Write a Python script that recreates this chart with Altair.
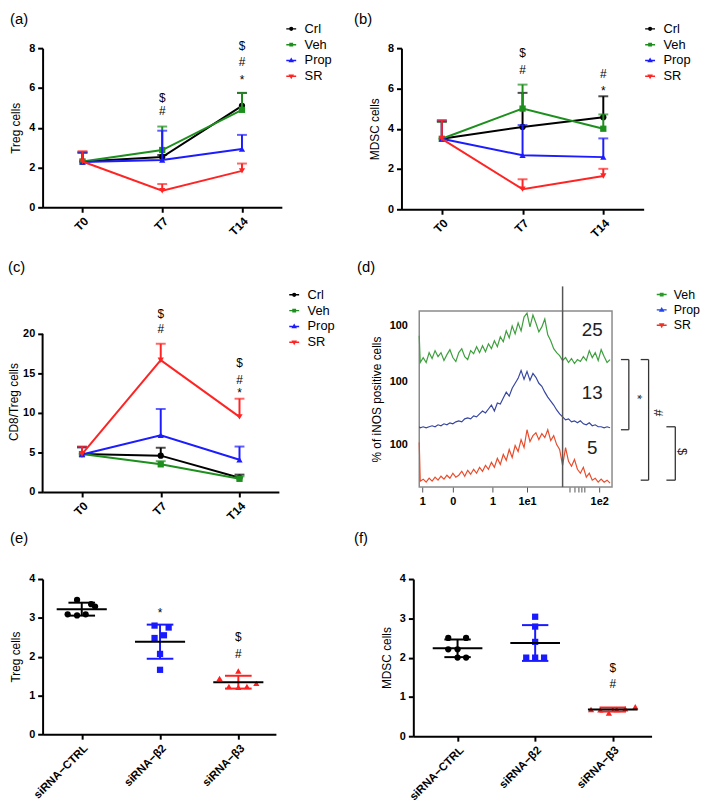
import altair as alt
import pandas as pd

FONT = "Liberation Sans"

# ---------------- shared series definitions ----------------
times = ["T0", "T7", "T14"]
groups = ["Crl", "Veh", "Prop", "SR"]
group_colors = ["#000000", "#1c8f1c", "#1c1cff", "#ff2424"]
group_shapes = ["circle", "square", "triangle-up", "triangle-down"]
legend_paths = [
    "M-1,0H1M-0.28,0A0.28,0.28 0 1,0 0.28,0A0.28,0.28 0 1,0 -0.28,0Z",
    "M-1,0H1M-0.24,-0.24H0.24V0.24H-0.24Z",
    "M-1,0H1M-0.3,0.22L0,-0.3L0.3,0.22Z",
    "M-1,0H1M-0.3,-0.22L0,0.3L0.3,-0.22Z",
]

# (a) Treg cells  (mean, upper error)
a_mean = {"Crl": [2.30, 2.53, 5.10], "Veh": [2.30, 2.88, 4.90],
          "Prop": [2.28, 2.38, 2.93], "SR": [2.30, 0.83, 1.83]}
a_err = {"Crl": [0.45, 0.10, 0.65], "Veh": [0.45, 1.18, 0.85],
         "Prop": [0.48, 1.47, 0.71], "SR": [0.52, 0.34, 0.37]}
a_mark_t = ["T7", "T7", "T14", "T14", "T14"]
a_mark_y = [5.47, 4.83, 8.10, 7.30, 6.55]
a_mark_s = ["$", "#", "$", "#", "*"]

# (b) MDSC cells
b_mean = {"Crl": [3.50, 4.09, 4.57], "Veh": [3.50, 5.00, 4.00],
          "Prop": [3.50, 2.68, 2.59], "SR": [3.50, 1.00, 1.65]}
b_err = {"Crl": [0.85, 1.69, 1.04], "Veh": [0.85, 1.19, 0.71],
         "Prop": [0.90, 1.50, 0.93], "SR": [0.93, 0.49, 0.36]}
b_mark_t = ["T7", "T7", "T14", "T14"]
b_mark_y = [7.75, 6.90, 6.70, 6.00]
b_mark_s = ["$", "#", "#", "*"]

# (c) CD8/Treg cells
c_mean = {"Crl": [4.80, 4.60, 1.80], "Veh": [4.80, 3.50, 1.67],
          "Prop": [4.75, 7.17, 4.08], "SR": [4.80, 16.67, 9.50]}
c_err = {"Crl": [0.90, 1.00, 0.40], "Veh": [0.85, 0.40, 0.30],
         "Prop": [0.90, 3.33, 1.67], "SR": [0.95, 2.08, 2.30]}
c_mark_t = ["T7", "T7", "T14", "T14", "T14"]
c_mark_y = [22.5, 20.6, 16.25, 14.1, 12.9]
c_mark_s = ["$", "#", "$", "#", "*"]

# (d) iNOS histograms
hist_names = ["Veh", "Prop", "SR"]
hist_colors = ["#3f9f3f", "#3646a0", "#e84c2c"]
hist_legend_colors = ["#2a9a2a", "#2244ee", "#ee3322"]
hist_offsets = [123, 59, 3]
hist_level100 = [40, 48, 40]
hist_pct = ["25", "13", "5"]
hist_chan = [0, 1] + list(range(4, 194, 3))
veh_counts = [30, 3, 8, 3, 13, 7, 15, 9, 13, 5, 11, 16, 8, 4, 13, 17, 9, 6, 15, 12,
              19, 13, 20, 14, 22, 17, 25, 19, 29, 24, 35, 28, 40, 32, 43, 35, 49, 53, 39, 51,
              43, 34, 39, 47, 31, 25, 17, 13, 10, 5, 8, 3, 7, 2, 6, 4, 9, 5, 15, 8,
              13, 5, 16, 9, 3, 6]
prop_counts = [2, 1, 2, 1, 2, 3, 2, 4, 3, 5, 4, 6, 5, 7, 8, 7, 10, 11, 10, 13,
               12, 15, 18, 16, 20, 24, 18, 26, 25, 31, 37, 33, 41, 46, 51, 59, 50, 58, 49, 56,
               52, 46, 43, 37, 32, 28, 24, 19, 15, 12, 9, 10, 7, 8, 6, 8, 5, 4, 6, 3,
               4, 2, 2, 1, 2, 1]
sr_counts = [42, 3, 5, 2, 6, 3, 7, 4, 8, 5, 9, 6, 11, 7, 9, 13, 8, 14, 10, 15,
             11, 17, 13, 19, 15, 22, 17, 26, 20, 30, 24, 35, 27, 39, 33, 45, 37, 55, 43, 49,
             52, 45, 51, 47, 55, 44, 49, 40, 35, 19, 37, 23, 18, 25, 15, 11, 17, 7, 11, 4,
             6, 2, 5, 2, 4, 1]
hist_gate = [145]
hist_tick_vals = [3, 34, 74, 109, 182]
hist_tick_text = ["1", "0", "1", "1e1", "1e2"]
hist_minor_ticks = [152, 157, 161, 164, 167]
bracket_text = ["*", "#", "$"]

# (e) Treg cells after siRNA, (f) MDSC cells after siRNA
si_labels = ["siRNA\u2212CTRL", "siRNA\u2212\u03b22", "siRNA\u2212\u03b23"]
si_colors = ["#000000", "#1a1aff", "#ff2020"]
si_shapes = ["circle", "square", "triangle-up"]
e_vals = [[3.46, 3.09, 3.06, 3.09, 3.35, 3.29],
          [2.80, 2.75, 2.55, 2.48, 2.07, 1.66],
          [1.44, 1.63, 1.23, 1.21, 1.23, 1.31]]
e_jit = [[-0.06, -0.18, -0.06, 0.05, 0.12, 0.17],
         [-0.07, 0.11, 0.05, -0.07, 0.0, 0.0],
         [-0.24, 0.0, -0.12, 0.0, 0.11, 0.23]]
e_mark_x = [1, 2, 2]
e_mark_y = [3.20, 2.50, 2.07]
e_mark_s = ["*", "$", "#"]
f_vals = [[2.50, 2.50, 2.21, 2.21, 2.00, 2.00],
          [3.04, 2.79, 2.40, 2.00, 2.00, 2.00],
          [0.68, 0.67, 0.59, 0.68, 0.70, 0.75]]
f_jit = [[-0.12, 0.11, -0.12, 0.0, 0.0, 0.11],
         [0.0, 0.0, 0.0, -0.115, 0.0, 0.115],
         [-0.28, -0.16, -0.05, 0.05, 0.16, 0.29]]
f_mark_x = [2, 2]
f_mark_y = [1.74, 1.33]
f_mark_s = ["$", "#"]

ANN_SIZE = 12


def panel_title(label, dx, offset):
    return alt.TitleParams(text=label, anchor="start", frame="bounds", font=FONT,
                           fontSize=15, fontWeight="normal", color="black",
                           offset=offset, dx=dx)


def line_panel(label, ytitle, mean, err, ymax, ystep, mt, my, ms, width, height,
               axis_px, leg_x, leg_y, title_dx, title_off, title_x):
    rows = []
    for g in groups:
        for t, m, e in zip(times, mean[g], err[g]):
            rows.append({"group": g, "time": t, "mean": m, "hi": m + e})
    df = pd.DataFrame(rows)
    ydom = ymax * height / axis_px
    yaxis = alt.Axis(values=list(range(0, ymax + 1, ystep)), title=ytitle,
                     titleX=title_x, domain=(axis_px == height))
    xaxis = alt.Axis(title=None, labelAngle=-45)
    xscale = alt.Scale(type="point", domain=times, padding=0.5)

    def X(f="time"):
        return alt.X(f + ":N", scale=xscale, axis=xaxis)

    def Y(f):
        return alt.Y(f + ":Q", scale=alt.Scale(domain=[0, ydom], nice=False), axis=yaxis)

    layers = []
    if axis_px != height:
        layers.append(alt.Chart(pd.DataFrame({"lo": [0], "top": [ymax]}))
                      .mark_rule(color="black", strokeWidth=2)
                      .encode(x=alt.value(0), y=Y("lo"), y2="top:Q"))
    for g, c, s in zip(groups, group_colors, group_shapes):
        sub = alt.Chart(df).transform_filter(alt.datum.group == g)
        layers.append(sub.mark_rule(color=c, strokeWidth=2).encode(x=X(), y=Y("mean"), y2="hi:Q"))
        layers.append(sub.mark_tick(color=c, thickness=2, size=10).encode(x=X(), y=Y("hi")))
        layers.append(sub.mark_line(color=c, strokeWidth=2).encode(x=X(), y=Y("mean")))
        layers.append(sub.mark_point(filled=True, color=c, shape=s, size=40, opacity=1)
                      .encode(x=X(), y=Y("mean")))
    ann = pd.DataFrame({"time": mt, "y": my, "s": ms})
    reg = ann[ann.s != "*"]
    star = ann[ann.s == "*"]
    layers.append(alt.Chart(reg).mark_text(font=FONT, fontSize=ANN_SIZE, color="black", baseline="middle")
                  .encode(x=X(), y=Y("y"), text="s:N"))
    layers.append(alt.Chart(star).mark_text(font=FONT, fontSize=ANN_SIZE, color="black", baseline="middle", dy=3)
                  .encode(x=X(), y=Y("y"), text="s:N"))
    leg = alt.Legend(orient="none", legendX=leg_x, legendY=leg_y, title=None, labelFont=FONT,
                     labelFontSize=13, labelColor="black", labelOffset=7, rowPadding=2)
    layers.append(alt.Chart(df).transform_filter("false")
                  .mark_point(filled=False, size=196, strokeWidth=2, opacity=1)
                  .encode(color=alt.Color("group:N", scale=alt.Scale(domain=groups, range=group_colors), legend=leg),
                          shape=alt.Shape("group:N", scale=alt.Scale(domain=groups, range=legend_paths), legend=leg)))
    return alt.layer(*layers).properties(width=width, height=height,
                                         title=panel_title(label, title_dx, title_off))


def hist_panel(width, height, title_dx, title_off, leg_y):
    rows = []
    for name, off, counts in zip(hist_names, hist_offsets, [veh_counts, prop_counts, sr_counts]):
        for ch, v in zip(hist_chan, counts):
            rows.append({"trace": name, "chan": ch, "y": off + v})
    df = pd.DataFrame(rows)
    vals = hist_tick_vals + hist_minor_ticks
    lab = ("indexof(%s, datum.value) >= 0 ? %s[indexof(%s, datum.value)] : ''"
           % (str(hist_tick_vals), str(hist_tick_text), str(hist_tick_vals)))
    xaxis = alt.Axis(values=vals, labelExpr=lab, title=None, domain=False, tickColor="#555555",
                     tickWidth=1, tickSize=5, labelAngle=0, labelPadding=4, labelFontSize=11)
    yvals = [o + l for o, l in zip(hist_offsets, hist_level100)]
    yaxis = alt.Axis(values=yvals, labelExpr="'100'", title="% of iNOS positive cells", titleX=-36,
                     domain=False, ticks=False, labelPadding=12)

    def X(f):
        return alt.X(f + ":Q", scale=alt.Scale(domain=[0, 195], nice=False, zero=False), axis=xaxis)

    def Y(f):
        return alt.Y(f + ":Q", scale=alt.Scale(domain=[0, 178], nice=False), axis=yaxis)

    layers = []
    for name, col in zip(hist_names, hist_colors):
        layers.append(alt.Chart(df).transform_filter(alt.datum.trace == name)
                      .mark_line(color=col, strokeWidth=1.2).encode(x=X("chan"), y=Y("y")))
    layers.append(alt.Chart(pd.DataFrame({"g": hist_gate, "lo": [0], "top": [203]}))
                  .mark_rule(color="#555555", strokeWidth=1.5).encode(x=X("g"), y=Y("lo"), y2="top:Q"))
    pct = pd.DataFrame({"x": [175] * 3, "y": [o + 36 for o in hist_offsets], "t": hist_pct})
    layers.append(alt.Chart(pct).mark_text(font=FONT, fontSize=19, color="#222222", baseline="middle")
                  .encode(x=X("x"), y=Y("y"), text="t:N"))
    # significance brackets (layout constants, outside the frame)
    br = pd.DataFrame({"xv": [212, 232, 259], "xl": [204, 224, 250],
                       "y0": [129, 129, 61], "y1": [58, 7, 7]})
    layers.append(alt.Chart(br).mark_rule(color="#333333", strokeWidth=1.3)
                  .encode(x=X("xv"), y=Y("y0"), y2="y1:Q"))
    layers.append(alt.Chart(br).mark_rule(color="#333333", strokeWidth=1.3)
                  .encode(x=X("xl"), x2="xv:Q", y=Y("y0")))
    layers.append(alt.Chart(br).mark_rule(color="#333333", strokeWidth=1.3)
                  .encode(x=X("xl"), x2="xv:Q", y=Y("y1")))
    bl = pd.DataFrame({"x": [220, 241, 266], "y": [91, 75, 36], "t": bracket_text})
    layers.append(alt.Chart(bl).mark_text(font=FONT, fontSize=13, color="#222222", baseline="middle", angle=90)
                  .encode(x=X("x"), y=Y("y"), text="t:N"))
    leg = alt.Legend(orient="none", legendX=239, legendY=leg_y, title=None, labelFont=FONT,
                     labelFontSize=12.5, labelColor="black", labelOffset=6, rowPadding=2.5)
    layers.append(alt.Chart(pd.DataFrame({"trace": hist_names})).transform_filter("false")
                  .mark_point(filled=False, size=169, strokeWidth=2, opacity=1)
                  .encode(color=alt.Color("trace:N", scale=alt.Scale(domain=hist_names, range=hist_legend_colors), legend=leg),
                          shape=alt.Shape("trace:N", scale=alt.Scale(domain=hist_names, range=legend_paths[1:]), legend=leg)))
    return alt.layer(*layers).properties(
        width=width, height=height, title=panel_title("(d)", title_dx, title_off),
        view=alt.ViewBackground(stroke="#8a8a8a", strokeWidth=1.5))


def scatter_panel(label, ytitle, vals, jit, xdom, mx, my, ms, width, height, title_dx, title_off, title_x):
    rows = []
    for i, (vs, js) in enumerate(zip(vals, jit)):
        for v, j in zip(vs, js):
            rows.append({"idx": i, "xp": i + j, "v": v})
    df = pd.DataFrame(rows)
    lab = "%s[datum.value]" % str(si_labels)
    xaxis = alt.Axis(values=[0, 1, 2], labelExpr=lab, labelAngle=-45, title=None, labelFontSize=11.5)
    yaxis = alt.Axis(values=[0, 1, 2, 3, 4], title=ytitle, titleX=title_x)

    def X(f):
        return alt.X(f + ":Q", scale=alt.Scale(domain=xdom, nice=False, zero=False), axis=xaxis)

    def Y(f):
        return alt.Y(f + ":Q", scale=alt.Scale(domain=[0, 4], nice=False), axis=yaxis)

    layers = []
    for i, (c, s) in enumerate(zip(si_colors, si_shapes)):
        layers.append(alt.Chart(df).transform_filter(alt.datum.idx == i)
                      .mark_point(filled=True, color=c, shape=s, size=40, opacity=1)
                      .encode(x=X("xp"), y=Y("v")))
    stats = (alt.Chart(df)
             .transform_aggregate(m="mean(v)", sd="stdev(v)", groupby=["idx"])
             .transform_calculate(hi="datum.m + datum.sd", lo="datum.m - datum.sd",
                                  ml="datum.idx - 0.32", mr="datum.idx + 0.32",
                                  cl="datum.idx - 0.17", cr="datum.idx + 0.17"))
    for i, c in enumerate(si_colors):
        st = stats.transform_filter(alt.datum.idx == i)
        layers.append(st.mark_rule(color=c, strokeWidth=2).encode(x=X("idx"), y=Y("lo"), y2="hi:Q"))
        layers.append(st.mark_rule(color=c, strokeWidth=2).encode(x=X("cl"), x2="cr:Q", y=Y("hi")))
        layers.append(st.mark_rule(color=c, strokeWidth=2).encode(x=X("cl"), x2="cr:Q", y=Y("lo")))
    layers.append(stats.mark_rule(color="black", strokeWidth=2).encode(x=X("ml"), x2="mr:Q", y=Y("m")))
    ann = pd.DataFrame({"x": mx, "y": my, "s": ms})
    reg = ann[ann.s != "*"]
    star = ann[ann.s == "*"]
    layers.append(alt.Chart(reg).mark_text(font=FONT, fontSize=ANN_SIZE, color="black", baseline="middle")
                  .encode(x=X("x"), y=Y("y"), text="s:N"))
    if len(star):
        layers.append(alt.Chart(star).mark_text(font=FONT, fontSize=ANN_SIZE, color="black", baseline="middle", dy=3)
                      .encode(x=X("x"), y=Y("y"), text="s:N"))
    return alt.layer(*layers).properties(width=width, height=height,
                                         title=panel_title(label, title_dx, title_off))


pa = line_panel("(a)", "Treg cells", a_mean, a_err, 8, 2, a_mark_t, a_mark_y, a_mark_s,
                242, 161, 161, 245, -26, 0, -5, -20)
pb = line_panel("(b)", "MDSC cells", b_mean, b_err, 8, 2, b_mark_t, b_mark_y, b_mark_s,
                245, 163, 163, 245, -26, -15, -5, -20)
pc = line_panel("(c)", "CD8/Treg cells", c_mean, c_err, 20, 5, c_mark_t, c_mark_y, c_mark_s,
                239, 183, 160, 248, -23, 0, 14, -22)
pd_ = hist_panel(195, 178, -14, 11, -23)
pe = scatter_panel("(e)", "Treg cells", e_vals, e_jit, [-0.5, 2.48], e_mark_x, e_mark_y, e_mark_s,
                   236, 157, 0, 27, -20)
pf = scatter_panel("(f)", "MDSC cells", f_vals, f_jit, [-0.57, 2.5], f_mark_x, f_mark_y, f_mark_s,
                   241, 159, -27, 27, -20)


def indep(ch):
    return ch.resolve_scale(color="independent", shape="independent")


row1 = indep(alt.hconcat(pa, pb, spacing=22))
row2 = indep(alt.hconcat(pc, pd_, spacing=21))
row3 = indep(alt.hconcat(pe, pf, spacing=79))
top = indep(alt.vconcat(row1, row2, spacing=19))
chart = indep(alt.vconcat(top, row3, spacing=9))

chart = (chart.properties(padding={"left": 0, "top": 0, "right": 0, "bottom": 0}, background="white")
         .configure_view(stroke=None)
         .configure_axis(domainColor="black", domainWidth=2, tickColor="black", tickWidth=2,
                         tickSize=5, labelFont=FONT, labelFontSize=11, labelFontWeight="bold",
                         labelColor="black", labelPadding=3, titleFont=FONT, titleFontSize=12,
                         titleFontWeight="normal", titleColor="black", grid=False)
         .configure_axisX(labelFontSize=12))

chart.save("out.html", embed_options={"renderer": "svg", "actions": False})
